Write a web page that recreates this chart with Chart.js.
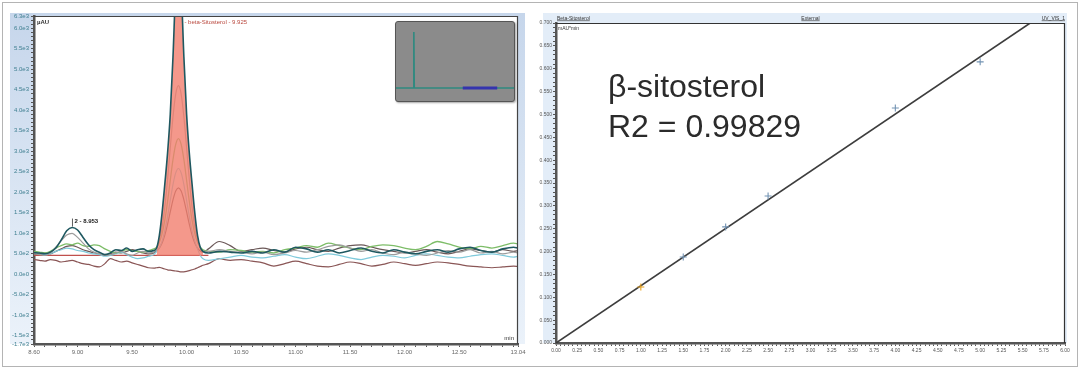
<!DOCTYPE html>
<html>
<head>
<meta charset="utf-8">
<script src="https://cdn.jsdelivr.net/npm/chart.js@4.4.1/dist/chart.umd.min.js"></script>
<style>
  body { margin: 0; background: #fff; width: 1080px; height: 369px; overflow: hidden; position: relative; }
  #frame { position: absolute; left: 2px; top: 2px; width: 1074px; height: 363px; border: 1px solid #b4b4b4; }
  canvas { position: absolute; }
  #left { left: 0; top: 0; }
  #right { left: 530px; top: 0; }
  #insetBox { position: absolute; left: 395px; top: 21px; width: 118px; height: 79px; border: 1px solid #555; border-radius: 3px; background: #8b8b8b; box-shadow: 1px 1px 2px rgba(0,0,0,0.35); }
  #inset { left: 0; top: 0; }
</style>
</head>
<body>
<div id="frame"></div>
<canvas id="left" width="530" height="369"></canvas>
<canvas id="right" width="550" height="369"></canvas>
<div id="insetBox"><canvas id="inset" width="118" height="79"></canvas></div>
<script>
const FONT = '"Liberation Sans", Arial, sans-serif';

// ---- left: chromatogram (min / signal) ----
const times = [8.60, 8.65, 8.70, 8.75, 8.80, 8.85, 8.90, 8.95, 9.00, 9.05, 9.10, 9.15, 9.20, 9.25, 9.30, 9.35, 9.40, 9.45, 9.50, 9.55, 9.60, 9.65, 9.70,
  9.725, 9.75, 9.775, 9.80, 9.825, 9.85, 9.875, 9.90, 9.925, 9.95, 9.975, 10.00, 10.025, 10.05, 10.075, 10.10, 10.125, 10.15,
  10.2, 10.3, 10.4, 10.5, 10.6, 10.7, 10.8, 10.9, 11.0, 11.1, 11.2, 11.3, 11.4, 11.5, 11.6, 11.7, 11.8, 11.9, 12.0, 12.1, 12.2, 12.3, 12.4, 12.5, 12.6, 12.7, 12.8, 12.9, 13.0, 13.04];

const traceTeal = [530, 520, 500, 540, 640, 840, 1060, 1140, 1080, 900, 720, 600, 540, 480, 520, 600, 580, 640, 560, 600, 620, 560, 580,
  640, 950, 1500, 2200, 2950, 3900, 5300, 7000, 7800, 7000, 5300, 3900, 2950, 2200, 1500, 950, 660, 560,
  520, 560, 540, 520, 560, 520, 600, 540, 660, 620, 540, 600, 520, 580, 640, 560, 520, 600, 540, 500, 560, 600, 540, 620, 660, 580, 540, 620, 660, 640];

const traceGreen = [560, 540, 520, 560, 640, 700, 740, 720, 760, 700, 680, 720, 700, 620, 560, 520, 560, 600, 580, 560, 540, 580, 620,
  660, 780, 990, 1320, 1770, 2290, 2800, 3170, 3310, 3170, 2800, 2290, 1770, 1320, 990, 780, 660, 600,
  560, 540, 600, 580, 540, 560, 520, 600, 640, 700, 660, 760, 700, 640, 600, 680, 720, 700, 640, 600, 680, 800, 740, 660, 620, 680, 640, 700, 760, 740];

const traceGrey = [500, 480, 460, 520, 660, 820, 960, 1000, 900, 760, 620, 540, 500, 460, 480, 520, 560, 500, 460, 520, 560, 520, 540,
  650, 830, 1145, 1635, 2300, 3080, 3840, 4395, 4600, 4395, 3840, 3080, 2300, 1635, 1145, 830, 650, 560,
  560, 600, 560, 540, 500, 540, 480, 520, 580, 540, 600, 680, 720, 640, 560, 600, 520, 480, 540, 500, 460, 520, 580, 540, 600, 520, 560, 500, 540, 520];

const traceCyan = [540, 520, 480, 500, 560, 600, 640, 620, 580, 560, 520, 500, 480, 440, 460, 500, 540, 480, 420, 380, 400, 440, 480,
  560, 650, 810, 1060, 1405, 1800, 2190, 2475, 2580, 2475, 2190, 1800, 1405, 1060, 810, 620, 460, 380,
  340, 380, 420, 460, 420, 400, 440, 480, 420, 380, 440, 500, 460, 400, 360, 420, 460, 440, 400, 460, 500, 460, 420, 400, 440, 480, 500, 460, 420, 440];

const traceDark = [480, 500, 520, 500, 560, 620, 680, 700, 660, 600, 560, 520, 500, 480, 500, 540, 520, 560, 600, 560, 520, 500, 520,
  570, 640, 760, 955, 1215, 1520, 1815, 2030, 2110, 2030, 1815, 1520, 1215, 955, 760, 640, 570, 540,
  620, 800, 700, 560, 600, 640, 580, 540, 620, 660, 600, 560, 640, 700, 720, 660, 600, 560, 520, 560, 600, 540, 500, 560, 620, 580, 540, 600, 560, 580];

const traceBrown = [360, 340, 320, 360, 340, 300, 320, 340, 300, 260, 240, 200, 180, 260, 380, 340, 300, 320, 280, 240, 200, 160, 150,
  160, 170, 150, 130, 110, 100, 90, 80, 70, 60, 60, 70, 90, 110, 130, 160, 190, 220,
  260, 380, 340, 360, 320, 280, 200, 260, 320, 260, 200, 180, 240, 300, 260, 200, 240, 300, 260, 220, 260, 300, 280, 240, 200, 180, 160, 180, 200, 190];

const baselineTimes = [8.60, 10.2];
const baselineLevel = 460;
const peakStart = 9.725;
const peakEnd = 10.15;
const peakTime = 9.925;
const peakLabel = "- beta-Sitosterol - 9.925";
const smallPeakTime = 8.953;
const smallPeakHeight = 1140;
const smallPeakLabel = "2 - 8.953";

const leftXLabels = ["8.60", "9.00", "9.50", "10.00", "10.50", "11.00", "11.50", "12.00", "12.50", "13.04"];
const leftYLabels = ["6.3e3", "6.0e3", "5.5e3", "5.0e3", "4.5e3", "4.0e3", "3.5e3", "3.0e3", "2.5e3", "2.0e3", "1.5e3", "1.0e3", "5.0e2", "0.0e0", "-5.0e2", "-1.0e3", "-1.5e3", "-1.7e3"];

// inset overview
const insetTimes = [0, 2.25, 2.3, 2.35, 15.2];
const insetValues = [0, 0, 1, 0, 0];
const insetWindow = [8.60, 13.04];

// ---- right: calibration curve ----
const calAmount = [1.0, 1.5, 2.0, 2.5, 4.0, 5.0];
const calArea = [0.1225, 0.188, 0.254, 0.3216, 0.514, 0.615];
const fitX = [0, 5.59];
const fitY = [0, 0.700];
const rightXLabels = ["0.00", "0.25", "0.50", "0.75", "1.00", "1.25", "1.50", "1.75", "2.00", "2.25", "2.50", "2.75", "3.00", "3.25", "3.50", "3.75", "4.00", "4.25", "4.50", "4.75", "5.00", "5.25", "5.50", "5.75", "6.00"];
const rightYLabels = ["0.000", "0.050", "0.100", "0.150", "0.200", "0.250", "0.300", "0.350", "0.400", "0.450", "0.500", "0.550", "0.600", "0.650", "0.700"];

Chart.defaults.font.family = FONT;
Chart.defaults.animation = false;
Chart.defaults.events = [];
Chart.defaults.plugins.legend.display = false;
Chart.defaults.plugins.tooltip.enabled = false;

function labelFor(list) {
  const vals = list.map(parseFloat);
  return v => {
    const i = vals.findIndex(x => Math.abs(x - v) < 1e-6);
    return i < 0 ? '' : list[i];
  };
}

function stepTicks(from, to, step) {
  const out = [];
  const n = Math.round((to - from) / step);
  for (let i = 0; i <= n; i++) out.push(+(from + i * step).toFixed(4));
  return out;
}

function noPad(s) { s.paddingLeft = 0; s.paddingRight = 0; s.paddingTop = 0; s.paddingBottom = 0; }

function trace(values, color, width, order) {
  return {
    data: times.map((t, i) => ({ x: t, y: values[i] })),
    borderColor: color, borderWidth: width, pointRadius: 0,
    cubicInterpolationMode: 'monotone', fill: false, order: order
  };
}

const leftPanel = {
  id: 'leftPanel',
  beforeDraw(chart) {
    const { ctx, chartArea: a } = chart;
    ctx.save();
    const g = ctx.createLinearGradient(0, a.top - 3, 0, a.bottom);
    g.addColorStop(0, '#c6d6eb');
    g.addColorStop(1, '#ebf2fa');
    ctx.fillStyle = g;
    ctx.fillRect(a.left - 24, a.top - 3, a.right - a.left + 31, a.bottom - a.top + 3);
    ctx.fillStyle = '#fff';
    ctx.fillRect(a.left, a.top, a.right - a.left, a.bottom - a.top);
    ctx.restore();
  },
  afterDraw(chart) {
    const { ctx, chartArea: a, scales } = chart;
    ctx.save();
    ctx.strokeStyle = '#444';
    ctx.lineWidth = 1.2;
    ctx.beginPath();
    ctx.moveTo(a.left, a.top + 0.5);
    ctx.lineTo(a.right - 0.5, a.top + 0.5);
    ctx.lineTo(a.right - 0.5, a.bottom);
    ctx.stroke();

    ctx.font = 'bold 6px ' + FONT;
    ctx.fillStyle = '#333';
    ctx.textBaseline = 'middle';
    ctx.fillText('µAU', a.left + 3, a.top + 6);

    ctx.font = '6px ' + FONT;
    ctx.fillStyle = '#b9473d';
    ctx.fillText(peakLabel, scales.x.getPixelForValue(peakTime) + 6, a.top + 6);

    const px = scales.x.getPixelForValue(smallPeakTime);
    const py = scales.y.getPixelForValue(smallPeakHeight);
    ctx.strokeStyle = '#333';
    ctx.lineWidth = 0.8;
    ctx.beginPath();
    ctx.moveTo(px, py - 9);
    ctx.lineTo(px, py - 1);
    ctx.stroke();
    ctx.fillStyle = '#222';
    ctx.font = 'bold 6px ' + FONT;
    ctx.fillText(smallPeakLabel, px + 2, py - 6);

    ctx.font = '6px ' + FONT;
    ctx.textAlign = 'right';
    ctx.fillStyle = '#333';
    ctx.fillText('min', a.right - 4, a.bottom - 6);
    ctx.restore();
  }
};

new Chart(document.getElementById('left'), {
  type: 'line',
  data: {
    datasets: [
      trace(traceTeal, '#1f5860', 1.6, 0),
      {
        data: times.map((t, i) => ({ x: t, y: (t >= peakStart - 1e-9 && t <= peakEnd + 1e-9) ? traceTeal[i] : null })),
        borderWidth: 0, borderColor: 'rgba(0,0,0,0)', backgroundColor: 'rgba(241,126,110,0.8)',
        fill: { value: baselineLevel }, pointRadius: 0, cubicInterpolationMode: 'monotone', spanGaps: false, order: 1
      },
      trace(traceGrey, '#9c9c9c', 1.2, 2),
      trace(traceGreen, '#7dbd68', 1.3, 3),
      trace(traceCyan, '#7fcadb', 1.2, 4),
      trace(traceDark, '#6b5858', 1.2, 5),
      trace(traceBrown, '#8a5656', 1.2, 6),
      {
        data: baselineTimes.map(t => ({ x: t, y: baselineLevel })),
        borderColor: '#c0504d', borderWidth: 1.2, pointRadius: 0, fill: false, order: 7
      }
    ]
  },
  options: {
    responsive: false,
    layout: { padding: { left: 10, right: 12, top: 16, bottom: 3 } },
    scales: {
      x: {
        type: 'linear', min: 8.6, max: 13.04,
        afterBuildTicks: s => { s.ticks = stepTicks(8.6, 13.0, 0.1).concat([13.04]).map(v => ({ value: v })); },
        afterFit: s => { s.height = 22; noPad(s); },
        ticks: { autoSkip: false, maxRotation: 0, padding: 2, color: '#666', font: { size: 6 }, callback: labelFor(leftXLabels) },
        grid: { drawOnChartArea: false, drawTicks: true, tickLength: 3, tickColor: '#555', tickWidth: 1 },
        border: { color: '#555', width: 2.5 }
      },
      y: {
        type: 'linear', min: -1700, max: 6300,
        afterBuildTicks: s => { s.ticks = stepTicks(-1700, 6300, 100).map(v => ({ value: v })); },
        afterFit: s => { s.width = 24; noPad(s); },
        ticks: { autoSkip: false, padding: 2, color: '#3f7f90', font: { size: 6 }, callback: labelFor(leftYLabels) },
        grid: { drawOnChartArea: false, drawTicks: true, tickLength: 3, tickColor: '#555', tickWidth: 1 },
        border: { color: '#555', width: 2.5 }
      }
    }
  },
  plugins: [leftPanel]
});

new Chart(document.getElementById('inset'), {
  type: 'line',
  data: {
    datasets: [
      {
        data: insetWindow.map(t => ({ x: t, y: 0 })),
        borderColor: '#3434ae', borderWidth: 3, pointRadius: 0, order: 0
      },
      {
        data: insetTimes.map((t, i) => ({ x: t, y: insetValues[i] })),
        borderColor: '#2f8a80', borderWidth: 1.6, pointRadius: 0, tension: 0, order: 1
      }
    ]
  },
  options: {
    responsive: false,
    layout: { padding: 0 },
    scales: {
      x: { type: 'linear', min: 0, max: 15.2, display: false },
      y: { type: 'linear', min: -0.233, max: 1.179, display: false }
    }
  }
});

const rightPanel = {
  id: 'rightPanel',
  beforeDraw(chart) {
    const { ctx, chartArea: a } = chart;
    ctx.save();
    ctx.fillStyle = '#e3edf8';
    ctx.fillRect(a.left - 13, a.top - 10, a.right - a.left + 15, a.bottom - a.top + 10);
    ctx.fillStyle = '#fff';
    ctx.fillRect(a.left, a.top, a.right - a.left, a.bottom - a.top);
    ctx.restore();
  },
  afterDraw(chart) {
    const { ctx, chartArea: a } = chart;
    ctx.save();
    ctx.strokeStyle = '#333';
    ctx.lineWidth = 1.2;
    ctx.beginPath();
    ctx.moveTo(a.left, a.top + 0.5);
    ctx.lineTo(a.right - 0.5, a.top + 0.5);
    ctx.lineTo(a.right - 0.5, a.bottom);
    ctx.stroke();

    ctx.font = '5px ' + FONT;
    ctx.fillStyle = '#333';
    ctx.textBaseline = 'alphabetic';
    ctx.textAlign = 'left';
    ctx.fillText('Beta-Sitosterol', a.left + 1, a.top - 3);
    ctx.fillRect(a.left + 1, a.top - 2.5, ctx.measureText('Beta-Sitosterol').width, 0.6);
    ctx.textAlign = 'center';
    ctx.fillText('External', (a.left + a.right) / 2, a.top - 3);
    ctx.fillRect((a.left + a.right) / 2 - ctx.measureText('External').width / 2, a.top - 2.5, ctx.measureText('External').width, 0.6);
    ctx.textAlign = 'right';
    ctx.fillText('UV_VIS_1', a.right, a.top - 3);
    ctx.fillRect(a.right - ctx.measureText('UV_VIS_1').width, a.top - 2.5, ctx.measureText('UV_VIS_1').width, 0.6);
    ctx.textAlign = 'left';
    ctx.fillText('mAU*min', a.left + 2, a.top + 7);

    ctx.font = '32px ' + FONT;
    ctx.fillStyle = '#2b2b2b';
    ctx.fillText('β-sitosterol', a.left + 52, 97);
    ctx.fillText('R2 = 0.99829', a.left + 52, 137);
    ctx.restore();
  }
};

new Chart(document.getElementById('right'), {
  type: 'scatter',
  data: {
    datasets: [
      {
        data: fitX.map((x, i) => ({ x: x, y: fitY[i] })),
        showLine: true, borderColor: '#3d3d3d', borderWidth: 1.6, pointRadius: 0, order: 1
      },
      {
        data: calAmount.map((x, i) => ({ x: x, y: calArea[i] })),
        showLine: false, pointStyle: 'cross', pointRadius: 3.5, pointBorderWidth: 1.1,
        pointBorderColor: calAmount.map((x, i) => i === 0 ? '#e8a21e' : '#7393b3'), order: 0
      }
    ]
  },
  options: {
    responsive: false,
    layout: { padding: { left: 6, right: 15, top: 23, bottom: 4 } },
    scales: {
      x: {
        type: 'linear', min: 0, max: 6,
        afterBuildTicks: s => { s.ticks = stepTicks(0, 6, 0.05).map(v => ({ value: v })); },
        afterFit: s => { s.height = 22; noPad(s); },
        ticks: { autoSkip: false, maxRotation: 0, padding: 2, color: '#555', font: { size: 5 }, callback: labelFor(rightXLabels) },
        grid: { drawOnChartArea: false, drawTicks: true, tickLength: 3, tickColor: '#555', tickWidth: 1 },
        border: { color: '#555', width: 2.5 }
      },
      y: {
        type: 'linear', min: 0, max: 0.7,
        afterBuildTicks: s => { s.ticks = stepTicks(0, 0.7, 0.01).map(v => ({ value: v })); },
        afterFit: s => { s.width = 20; noPad(s); },
        ticks: { autoSkip: false, padding: 1, color: '#555', font: { size: 5 }, callback: labelFor(rightYLabels) },
        grid: { drawOnChartArea: false, drawTicks: true, tickLength: 3, tickColor: '#555', tickWidth: 1 },
        border: { color: '#555', width: 2.5 }
      }
    }
  },
  plugins: [rightPanel]
});
</script>
</body>
</html>
